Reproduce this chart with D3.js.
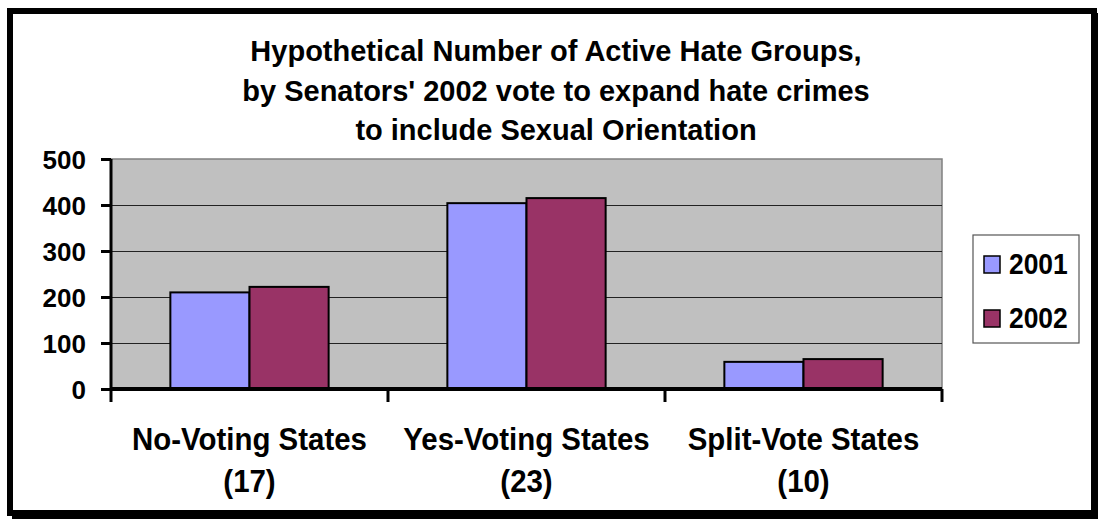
<!DOCTYPE html>
<html>
<head>
<meta charset="utf-8">
<script src="https://cdn.jsdelivr.net/npm/d3@7"></script>
<style>
  body { margin: 0; background: #fff; }
  text { font-family: "Liberation Sans", Arial, sans-serif; font-weight: bold; fill: #000; }
</style>
</head>
<body>
<script>
const categories = ["No-Voting States", "Yes-Voting States", "Split-Vote States"];
const categoryCounts = ["(17)", "(23)", "(10)"];
const seriesNames = ["2001", "2002"];
const values2001 = [210, 404, 59];
const values2002 = [222, 415, 65];
const yTicks = [0, 100, 200, 300, 400, 500];
const titleLines = [
  "Hypothetical Number of Active Hate Groups,",
  "by Senators' 2002 vote to expand hate crimes",
  "to include Sexual Orientation"
];

const colors = ["#9999ff", "#993366"];
const w = 1100;
const h = 521;
const plot = { left: 111, right: 942, top: 159, bottom: 389 };

const svg = d3.select("body").append("svg").attr("width", w).attr("height", h);

// chart frame (with a little shadow on the right / bottom)
svg.append("rect")
  .attr("x", 12).attr("y", 13)
  .attr("width", 1086).attr("height", 506)
  .attr("fill", "#000");
svg.append("rect")
  .attr("x", 10).attr("y", 11)
  .attr("width", 1084).attr("height", 502)
  .attr("fill", "#fff")
  .attr("stroke", "#000")
  .attr("stroke-width", 6);

// title
svg.append("g")
  .selectAll("text")
  .data(titleLines)
  .enter()
  .append("text")
  .attr("x", 556)
  .attr("y", (d, i) => 61 + i * 39.5)
  .attr("text-anchor", "middle")
  .style("font-size", "29px")
  .text((d) => d);

const x0 = d3.scaleBand().domain(categories).range([plot.left, plot.right]);
const x1 = d3.scaleBand().domain(seriesNames).range([0, x0.bandwidth()]).paddingOuter(0.75).paddingInner(0);
const y = d3.scaleLinear().domain([0, 500]).range([plot.bottom, plot.top]);

// plot area
svg.append("rect")
  .attr("x", plot.left).attr("y", plot.top)
  .attr("width", plot.right - plot.left).attr("height", plot.bottom - plot.top)
  .attr("fill", "#c0c0c0")
  .attr("stroke", "#808080")
  .attr("stroke-width", 1.5);

// gridlines
svg.append("g")
  .attr("transform", `translate(${plot.left},0)`)
  .call(d3.axisLeft(y).tickValues(yTicks.slice(1, -1)).tickSize(-(plot.right - plot.left)).tickFormat(""))
  .call((g) => g.select(".domain").remove())
  .call((g) => g.selectAll("line").attr("stroke", "#222").attr("stroke-width", 1));

// bars
const rows = categories.map((c, i) => ({ cat: c, vals: [values2001[i], values2002[i]] }));
svg.append("g")
  .selectAll("g")
  .data(rows)
  .enter()
  .append("g")
  .attr("transform", (d) => `translate(${x0(d.cat)},0)`)
  .selectAll("rect")
  .data((d) => d.vals.map((v, j) => ({ key: seriesNames[j], value: v, j })))
  .enter()
  .append("rect")
  .attr("x", (d) => x1(d.key))
  .attr("y", (d) => y(d.value))
  .attr("width", x1.bandwidth())
  .attr("height", (d) => plot.bottom - y(d.value))
  .attr("fill", (d) => colors[d.j])
  .attr("stroke", "#000")
  .attr("stroke-width", 2);

// y axis
const yAxis = svg.append("g")
  .attr("transform", `translate(${plot.left},0)`)
  .call(d3.axisLeft(y).tickValues(yTicks).tickSize(10).tickSizeOuter(0).tickPadding(15));
yAxis.select(".domain").attr("stroke", "#000").attr("stroke-width", 3)
  .attr("d", `M0,${plot.top}V${plot.bottom + 13}`);
yAxis.selectAll(".tick line").attr("stroke", "#000").attr("stroke-width", 3);
yAxis.selectAll(".tick text")
  .style("font-size", "26px")
  .style("font-family", "'Liberation Sans', Arial, sans-serif")
  .style("font-weight", "bold")
  .attr("dy", "0.36em");

// x axis
const xAxis = svg.append("g")
  .attr("transform", `translate(0,${plot.bottom})`)
  .call(d3.axisBottom(x0).tickSize(0).tickFormat(""));
xAxis.select(".domain").attr("stroke", "#000").attr("stroke-width", 4)
  .attr("d", `M${plot.left},0H${plot.right}`);
xAxis.selectAll(".tick").remove();
xAxis.selectAll("line.sep")
  .data(categories.map((c) => x0(c) + x0.bandwidth()))
  .enter()
  .append("line")
  .attr("class", "sep")
  .attr("x1", (d) => d).attr("x2", (d) => d)
  .attr("y1", 0).attr("y2", 13)
  .attr("stroke", "#000").attr("stroke-width", 3);

// category labels
const catLabels = svg.append("g")
  .selectAll("g")
  .data(categories)
  .enter()
  .append("g")
  .attr("transform", (d) => `translate(${x0(d) + x0.bandwidth() / 2},0) scale(0.92,1)`);
catLabels.append("text")
  .attr("y", 450)
  .attr("text-anchor", "middle")
  .style("font-size", "32px")
  .text((d) => d);
catLabels.append("text")
  .attr("y", 492)
  .attr("text-anchor", "middle")
  .style("font-size", "32px")
  .text((d, i) => categoryCounts[i]);

// legend
const legend = svg.append("g");
legend.append("rect")
  .attr("x", 973).attr("y", 235)
  .attr("width", 106).attr("height", 108)
  .attr("fill", "#fff")
  .attr("stroke", "#555")
  .attr("stroke-width", 1.2);
const items = legend.selectAll("g.item")
  .data(seriesNames)
  .enter()
  .append("g")
  .attr("class", "item")
  .attr("transform", (d, i) => `translate(984,${256 + i * 54})`);
items.append("rect")
  .attr("width", 16).attr("height", 17)
  .attr("fill", (d, i) => colors[i])
  .attr("stroke", "#000")
  .attr("stroke-width", 1.5);
items.append("text")
  .attr("transform", "translate(25,18) scale(0.88,1)")
  .style("font-size", "30px")
  .text((d) => d);
</script>
</body>
</html>
